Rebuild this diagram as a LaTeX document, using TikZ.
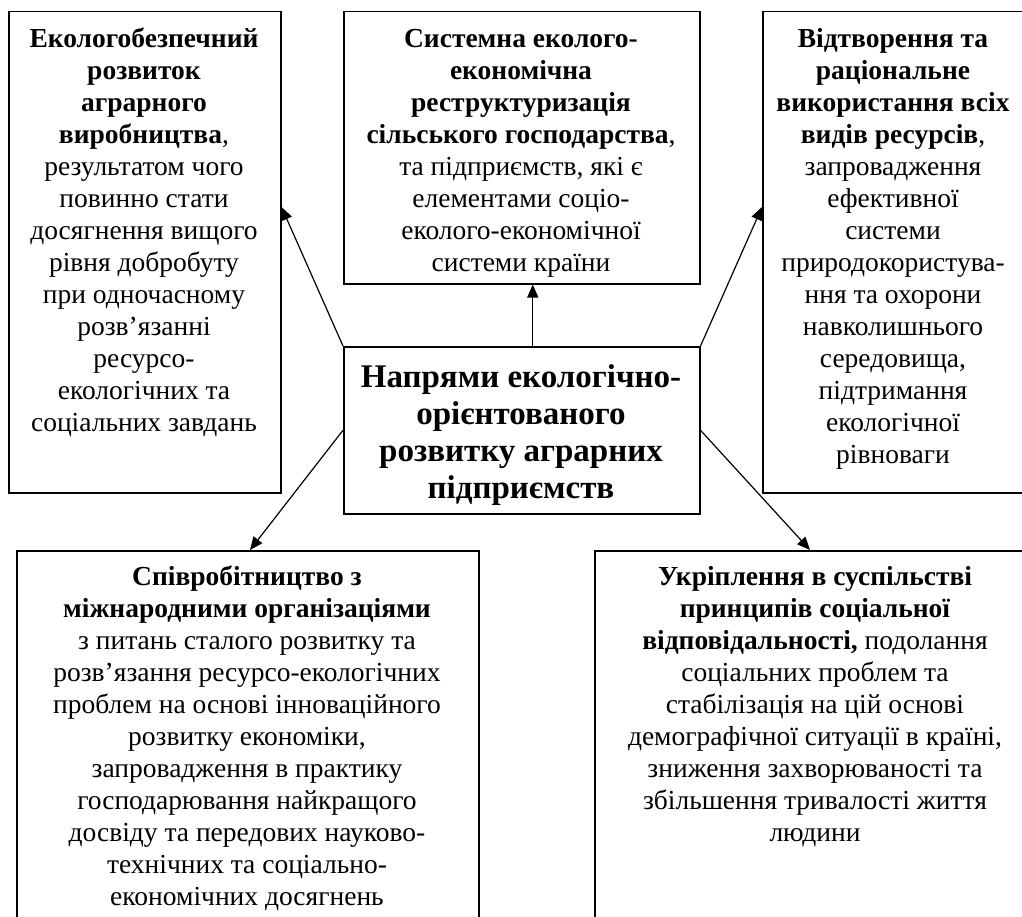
\documentclass[tikz,border=0pt]{standalone}
\usepackage{fontspec}
\setmainfont{Liberation Serif}
\usetikzlibrary{arrows.meta,calc}
\begin{document}
\begin{tikzpicture}[x=1pt,y=-1pt,
  box/.style={draw, line width=1.5pt, inner sep=0pt, anchor=north west},
  txt/.style={inner sep=0pt, anchor=north, align=center, font=\fontsize{27.5}{32}\selectfont},
  ctxt/.style={inner sep=0pt, anchor=north, align=center, font=\fontsize{33}{37}\selectfont\bfseries},
  arr/.style={line width=1.2pt, -{Triangle[length=13pt,width=11pt]}}]
\useasboundingbox (0,0) rectangle (1022,917);
% boxes
\node[box, minimum width=272pt, minimum height=481pt] (L) at (8,11) {};
\node[box, minimum width=356pt, minimum height=272pt] (T) at (343,11) {};
\node[box, minimum width=262pt, minimum height=481pt] (R) at (762,11) {};
\node[box, minimum width=356pt, minimum height=167pt] (C) at (343,346) {};
\node[box, minimum width=462pt, minimum height=380pt] (BL) at (16,550) {};
\node[box, minimum width=442pt, minimum height=380pt] (BR) at (594,550) {};
% texts
\node[txt] (Lt) at (144,24.6) {\strut\textbf{Екологобезпечний}\\ \textbf{розвиток}\\ \textbf{аграрного}\\ \textbf{виробництва},\\ результатом чого\\ повинно стати\\ досягнення вищого\\ рівня добробуту\\ при одночасному\\ розв’язанні\\ ресурсо-\\ екологічних та\\ соціальних завдань};
\node[txt] (Tt) at (521,24.6) {\strut\textbf{Системна еколого-}\\ \textbf{економічна}\\ \textbf{реструктуризація}\\ \textbf{сільського господарства},\\ та підприємств, які є\\ елементами соціо-\\ еколого-економічної\\ системи країни};
\node[txt] (Rt) at (893,24.6) {\strut\textbf{Відтворення та}\\ \textbf{раціональне}\\ \textbf{використання всіх}\\ \textbf{видів ресурсів},\\ запровадження\\ ефективної\\ системи\\ природокористува-\\ ння та охорони\\ навколишнього\\ середовища,\\ підтримання\\ екологічної\\ рівноваги};
\node[ctxt] (Ct) at (521,361.1) {\strut Напрями екологічно-\\ орієнтованого\\ розвитку аграрних\\ підприємств};
\node[txt] (BLt) at (247,562.6) {\strut\textbf{Співробітництво з}\\ \textbf{міжнародними організаціями}\\ з питань сталого розвитку та\\ розв’язання ресурсо-екологічних\\ проблем на основі інноваційного\\ розвитку економіки,\\ запровадження в практику\\ господарювання найкращого\\ досвіду та передових науково-\\ технічних та соціально-\\ економічних досягнень};
\node[txt] (BRt) at (815,562.6) {\strut\textbf{Укріплення в суспільстві}\\ \textbf{принципів соціальної}\\ \textbf{відповідальності,} подолання\\ соціальних проблем та\\ стабілізація на цій основі\\ демографічної ситуації в країні,\\ зниження захворюваності та\\ збільшення тривалості життя\\ людини};
% connectors
\coordinate (Lend) at ($(L.north east)+(0,196)$);
\coordinate (Rend) at ($(R.north west)+(0,196)$);
\coordinate (Cup) at ($(C.north)+(11,0)$);
\coordinate (BLend) at ($(BL.north west)+(234,0)$);
\coordinate (BRend) at ($(BR.north west)+(216,0)$);
\draw[arr] (C.north west) -- (Lend);
\draw[arr] (C.north east) -- (Rend);
\draw[arr] (Cup) -- (Cup |- T.south);
\draw[arr] (C.west) -- (BLend);
\draw[arr] (C.east) -- (BRend);
\end{tikzpicture}
\end{document}
